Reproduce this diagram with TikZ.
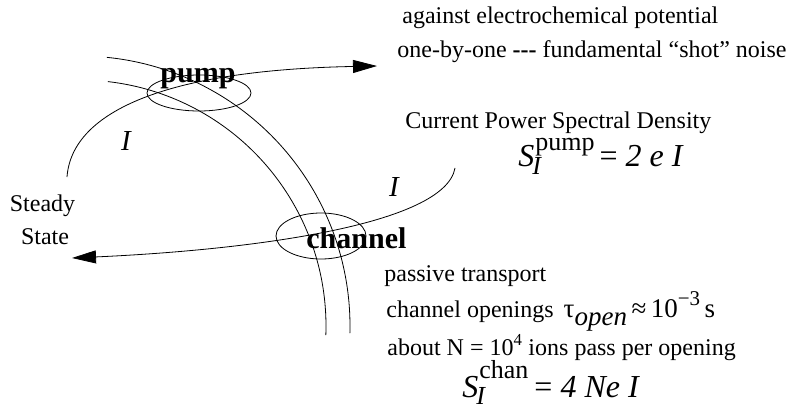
\documentclass[tikz,border=0pt]{standalone}
\usepackage{amsmath}
\usepackage{fontspec}
\setmainfont{Liberation Serif}
\usetikzlibrary{arrows.meta}
\newcommand{\mySI}[3]{{\itshape S}\rlap{\hspace{-2pt}\raisebox{-#3}{\fontsize{26}{26}\selectfont\itshape I}}\hspace{1pt}\raisebox{#2}{\fontsize{26}{26}\selectfont #1}}
\begin{document}
\begin{tikzpicture}[x=1pt,y=-1pt,
  line width=0.8pt,
  curr/.style={-{Triangle[length=24pt,width=13pt]}},
  desc/.style={anchor=base west,inner sep=0pt,font=\fontsize{24}{28}\selectfont},
  big/.style={anchor=base west,inner sep=0pt,font=\fontsize{30}{34}\selectfont\bfseries},
  ilab/.style={inner sep=0pt,font=\fontsize{29}{34}\selectfont\itshape},
  formula/.style={anchor=base west,inner sep=0pt,font=\fontsize{32}{36}\selectfont}]
\useasboundingbox (0,0) rectangle (792,412);
% membrane (two concentric arcs)
\draw plot[domain=84.3:-1.5,samples=80,smooth] ({80+270*cos(\x)},{326-270*sin(\x)});
\draw plot[domain=83.5:-2.1,samples=80,smooth] ({80+246*cos(\x)},{326-246*sin(\x)});
% ellipses
\draw (199,93) ellipse [x radius=52, y radius=18];
\draw (321,236) ellipse [x radius=45, y radius=23];
% currents
\coordinate (u0) at (67,177);
\coordinate (u1) at (377,66);
\coordinate (l0) at (455,168);
\coordinate (l1) at (72,258);
\draw[curr] (u0) .. controls (72,110) and (170,70) .. (u1);
\draw[curr] (l0) .. controls (445,225) and (250,250) .. (l1);
% labels
\node[big] (pump) at (160,82) {pump};
\node[big] (channel) at (306,248) {channel};
\node[ilab] (i1) at (126,141) {I};
\node[ilab] (i2) at (394,187) {I};
\node[desc,anchor=base] (steady) at (42.5,211) {Steady};
\node[desc,anchor=base] (state) at (45,244) {State};
\node[desc] (t1) at (402,24) {against electrochemical potential};
\node[desc] (t2) at (397,58) {one-by-one \textbf{-{}-{}-} fundamental “shot” noise};
\node[desc] (t3) at (405,128) {Current Power Spectral Density};
\node[formula] (f1) at (518,166) {\mySI{pump}{16pt}{8pt}\hspace{5pt}=\hspace{8pt}\textit{2 e I}};
\node[desc] (t4) at (384,281) {passive transport};
\node[desc] (t5) at (386,317) {channel openings\hspace{10pt}{\fontsize{27}{30}\selectfont τ\raisebox{-8pt}{\itshape open}\,≈\,10\raisebox{12pt}{\fontsize{21}{21}\selectfont −3}\,s}};
\node[desc] (t6) at (387,355) {about N = 10$^{\text{4}}$ ions pass per opening};
\node[formula] (f2) at (462,397) {\mySI{chan}{19pt}{7pt}\hspace{6pt}=\hspace{8pt}\textit{4 Ne I}};
\end{tikzpicture}
\end{document}
